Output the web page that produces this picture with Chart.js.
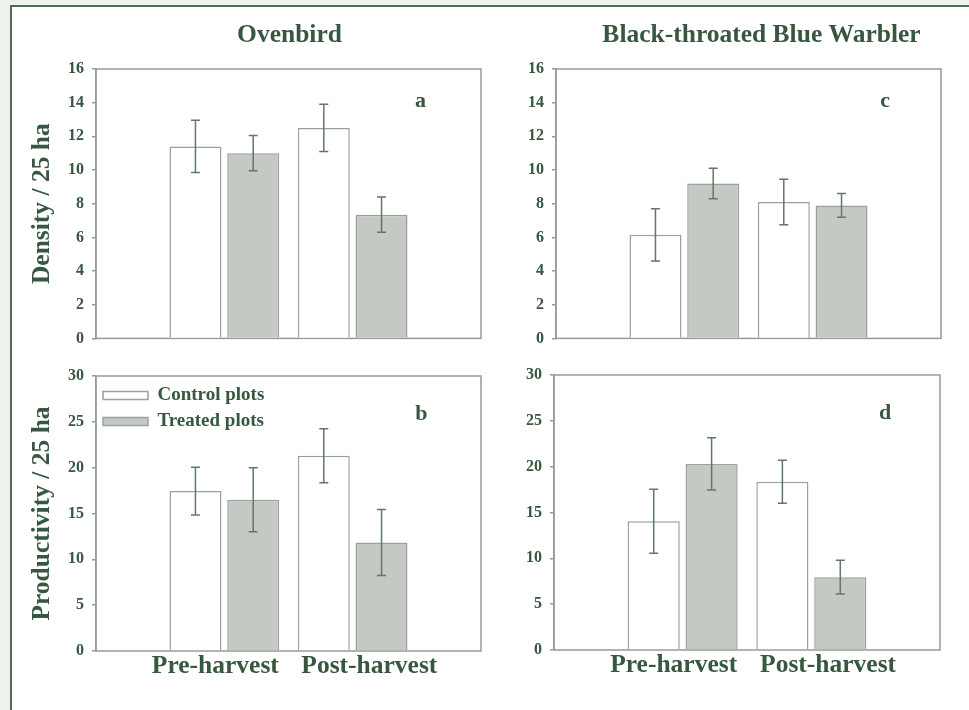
<!DOCTYPE html>
<html>
<head>
<meta charset="utf-8">
<script src="https://cdn.jsdelivr.net/npm/chart.js@4.4.1/dist/chart.umd.min.js"></script>
<style>
html,body{margin:0;padding:0;background:#eef1ee;overflow:hidden;}
#page{position:relative;width:969px;height:710px;background:#eef1ee;overflow:hidden;}
#frame{position:absolute;left:10px;top:5px;width:1000px;height:800px;background:#ffffff;border-left:2px solid #4f6b54;border-top:2px solid #4f6b54;}
canvas{position:absolute;}
</style>
</head>
<body>
<div id="page">
<div id="frame"></div>
<canvas id="cA" width="500" height="356" style="left:0px;top:0px;width:500px;height:356px"></canvas>
<canvas id="cC" width="489" height="356" style="left:480px;top:0px;width:489px;height:356px"></canvas>
<canvas id="cB" width="500" height="355" style="left:0px;top:355px;width:500px;height:355px"></canvas>
<canvas id="cD" width="489" height="355" style="left:480px;top:355px;width:489px;height:355px"></canvas>
</div>
<script>
// ---------- data ----------
const periods = ['Pre-harvest', 'Post-harvest'];
const seriesNames = ['Control plots', 'Treated plots'];
const speciesTitles = ['Ovenbird', 'Black-throated Blue Warbler'];
const panelLetters = ['a', 'b', 'c', 'd'];
const yTitles = ['Density / 25 ha', 'Productivity / 25 ha'];

const ovenbirdDensityControl = [11.4, 12.5];
const ovenbirdDensityControlSE = [1.55, 1.4];
const ovenbirdDensityTreated = [11.0, 7.35];
const ovenbirdDensityTreatedSE = [1.05, 1.05];

const ovenbirdProdControl = [17.45, 21.3];
const ovenbirdProdControlSE = [2.6, 2.95];
const ovenbirdProdTreated = [16.5, 11.85];
const ovenbirdProdTreatedSE = [3.5, 3.6];

const btbwDensityControl = [6.15, 8.1];
const btbwDensityControlSE = [1.55, 1.35];
const btbwDensityTreated = [9.2, 7.9];
const btbwDensityTreatedSE = [0.9, 0.7];

const btbwProdControl = [14.05, 18.35];
const btbwProdControlSE = [3.5, 2.35];
const btbwProdTreated = [20.3, 7.95];
const btbwProdTreatedSE = [2.85, 1.85];

const densityMax = 16, densityStep = 2;
const productivityMax = 30, productivityStep = 5;

// ---------- style ----------
const FONT = '"Liberation Serif", "Times New Roman", Times, serif';
const textColor = '#375740';
const axisColor = '#929d95';
const barEdge = '#98a29b';
const treatedFill = '#c4c9c4';
const errColor = '#62776a';

// category slots: empty slot on each side of the two periods
const slots = ['', ...periods, ''];
const pad = arr => [null, ...arr, null];

const boxPlugin = {
  id: 'boxPlugin',
  beforeDatasetsDraw(chart) {
    const a = chart.chartArea, ctx = chart.ctx;
    ctx.save();
    ctx.strokeStyle = axisColor;
    ctx.lineWidth = 1.5;
    ctx.strokeRect(a.left, a.top, a.right - a.left, a.bottom - a.top);
    ctx.restore();
  }
};

const errorBarPlugin = {
  id: 'errorBars',
  afterDatasetsDraw(chart) {
    const ctx = chart.ctx, ys = chart.scales.y;
    ctx.save();
    ctx.strokeStyle = errColor;
    ctx.lineWidth = 1.5;
    chart.data.datasets.forEach((ds, di) => {
      const meta = chart.getDatasetMeta(di);
      ds.data.forEach((v, i) => {
        if (v == null) return;
        const e = ds.errors[i];
        const el = meta.data[i];
        const x = el.x;
        const yt = ys.getPixelForValue(v + e);
        const yb = ys.getPixelForValue(v - e);
        ctx.beginPath();
        ctx.moveTo(x, yt); ctx.lineTo(x, yb);
        ctx.moveTo(x - 4.5, yt); ctx.lineTo(x + 4.5, yt);
        ctx.moveTo(x - 4.5, yb); ctx.lineTo(x + 4.5, yb);
        ctx.stroke();
      });
    });
    ctx.restore();
  }
};

const textPlugin = {
  id: 'panelText',
  afterDraw(chart, args, opts) {
    const a = chart.chartArea, ctx = chart.ctx;
    ctx.save();
    ctx.fillStyle = textColor;
    ctx.textAlign = 'center';
    ctx.textBaseline = 'alphabetic';
    if (opts.title) {
      ctx.font = 'bold 25.5px ' + FONT;
      ctx.fillText(opts.title, (a.left + a.right) / 2 + opts.titleDx, a.top - 27.5);
    }
    ctx.font = 'bold 22px ' + FONT;
    ctx.fillText(opts.letter, a.left + opts.letterFrac * (a.right - a.left), a.top + opts.letterDy);
    ctx.restore();
  }
};

function makeChart(id, p) {
  const scales = {
    x: { type: 'category', labels: slots, offset: false, display: false },
    y: {
      min: 0, max: p.yMax,
      ticks: { stepSize: p.yStep, font: { family: FONT, size: 16, weight: 'bold' }, color: textColor, padding: 8 },
      grid: { drawOnChartArea: false, drawTicks: true, tickLength: 4, color: axisColor, lineWidth: 1.5 },
      border: { display: true, color: axisColor, width: 1.5 },
      title: { display: !!p.yTitle, text: p.yTitle || '', font: { family: FONT, size: 25.5, weight: 'bold' }, color: textColor, padding: { top: 27, bottom: 0 } },
      afterFit: s => { s.width = p.yWidth; }
    }
  };
  if (p.xLabels) {
    scales.xl = {
      type: 'linear', position: 'bottom', min: 0, max: 1, offset: false,
      afterBuildTicks: ax => { ax.ticks = [0.31, 0.71].map(v => ({ value: v })); },
      ticks: { callback: (v, i) => periods[i], font: { family: FONT, size: 25.5, weight: 'bold' }, color: textColor, padding: 0, maxRotation: 0, autoSkip: false },
      grid: { display: false, drawTicks: false },
      border: { display: false },
      afterFit: s => { s.height = p.xHeight; }
    };
  }
  return new Chart(document.getElementById(id), {
    type: 'bar',
    data: {
      labels: slots,
      datasets: [
        { label: seriesNames[0], data: pad(p.control), errors: pad(p.controlSE), backgroundColor: '#ffffff', borderColor: barEdge, borderWidth: 1.5, xAxisID: 'x', yAxisID: 'y', categoryPercentage: 0.9, barPercentage: 0.9 },
        { label: seriesNames[1], data: pad(p.treated), errors: pad(p.treatedSE), backgroundColor: treatedFill, borderColor: barEdge, borderWidth: 1.5, xAxisID: 'x', yAxisID: 'y', categoryPercentage: 0.9, barPercentage: 0.9 }
      ]
    },
    options: {
      responsive: false, animation: false, devicePixelRatio: 1,
      layout: { padding: { left: 0, top: p.padTop, right: p.padRight, bottom: p.padBottom } },
      scales,
      plugins: {
        legend: {
          display: !!p.legend, position: 'chartArea', align: 'start',
          title: { display: true, text: '', font: { size: 10, lineHeight: 1 }, padding: { top: 14, bottom: 0 } },
          labels: { boxWidth: 45, boxHeight: 8, padding: 7, font: { family: FONT, size: 19, weight: 'bold' }, color: textColor }
        },
        tooltip: { enabled: false },
        title: { display: false },
        panelText: { title: p.title, titleDx: p.titleDx || 0, letter: p.letter, letterFrac: p.letterFrac, letterDy: p.letterDy }
      }
    },
    plugins: [boxPlugin, errorBarPlugin, textPlugin]
  });
}

makeChart('cA', {
  control: ovenbirdDensityControl, controlSE: ovenbirdDensityControlSE,
  treated: ovenbirdDensityTreated, treatedSE: ovenbirdDensityTreatedSE,
  yMax: densityMax, yStep: densityStep, yTitle: yTitles[0], yWidth: 96,
  padTop: 69, padRight: 19, padBottom: 12,
  title: speciesTitles[0], titleDx: 1, letter: panelLetters[0], letterFrac: 0.843, letterDy: 38
});
makeChart('cB', {
  control: ovenbirdProdControl, controlSE: ovenbirdProdControlSE,
  treated: ovenbirdProdTreated, treatedSE: ovenbirdProdTreatedSE,
  yMax: productivityMax, yStep: productivityStep, yTitle: yTitles[1], yWidth: 96,
  padTop: 21, padRight: 19, padBottom: 0, xLabels: true, xHeight: 59, legend: true,
  letter: panelLetters[1], letterFrac: 0.845, letterDy: 44
});
makeChart('cC', {
  control: btbwDensityControl, controlSE: btbwDensityControlSE,
  treated: btbwDensityTreated, treatedSE: btbwDensityTreatedSE,
  yMax: densityMax, yStep: densityStep, yWidth: 76,
  padTop: 69, padRight: 28, padBottom: 12,
  title: speciesTitles[1], titleDx: 13, letter: panelLetters[2], letterFrac: 0.855, letterDy: 38
});
makeChart('cD', {
  control: btbwProdControl, controlSE: btbwProdControlSE,
  treated: btbwProdTreated, treatedSE: btbwProdTreatedSE,
  yMax: productivityMax, yStep: productivityStep, yWidth: 74,
  padTop: 20, padRight: 29, padBottom: 0, xLabels: true, xHeight: 60,
  letter: panelLetters[3], letterFrac: 0.858, letterDy: 44
});
</script>
</body>
</html>
